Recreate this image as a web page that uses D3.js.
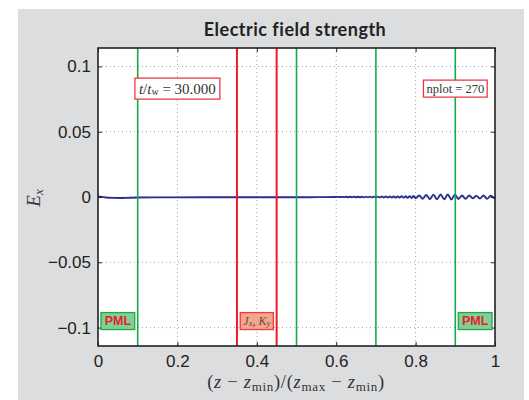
<!DOCTYPE html>
<html>
<head>
<meta charset="utf-8">
<script src="https://cdn.jsdelivr.net/npm/d3@7"></script>
<style>
  body { margin: 0; background: #fff; }
  svg { display: block; }
</style>
</head>
<body>
<div id="chart"></div>
<script>
// field sample positions (normalised z) and E_x values
const zPos = [0, 0.01, 0.02, 0.04, 0.06, 0.08, 0.1, 0.15, 0.2, 0.3, 0.4, 0.5, 0.55, 0.6,
  0.605, 0.61, 0.615, 0.62, 0.625, 0.63, 0.635, 0.64, 0.645, 0.65, 0.655, 0.66, 0.665, 0.67,
  0.675, 0.68, 0.685, 0.69, 0.695, 0.7, 0.705, 0.71, 0.715, 0.72, 0.725, 0.73, 0.735, 0.74,
  0.745, 0.75, 0.755, 0.76, 0.765, 0.77, 0.775, 0.78, 0.785, 0.79, 0.795, 0.8,
  0.809, 0.818, 0.827, 0.836, 0.845, 0.854, 0.863, 0.872, 0.881, 0.89, 0.899, 0.908,
  0.917, 0.926, 0.935, 0.944, 0.953, 0.962, 0.971, 0.98, 0.989, 0.998, 1.0];
const exValues = [0.0004, 0.0001, -0.0004, -0.0007, -0.0008, -0.0006, -0.0004, -0.0003, -0.0003, -0.0002, -0.0002, -0.0002, -0.0001, 0,
  0.0001, -0.0001, 0.0001, -0.0001, 0.00015, -0.00015, 0.00015, -0.00015, 0.0002, -0.0002, 0.0002, -0.0002, 0.0002, -0.00025,
  0.00025, -0.00025, 0.00025, -0.0003, 0.0003, -0.0003, 0.0003, -0.0003, 0.00035, -0.00035, 0.0004, -0.0004, 0.0004, -0.00045,
  0.0005, -0.0005, 0.0005, -0.0005, 0.0006, -0.0006, 0.0006, -0.0007, 0.0007, -0.0008, 0.0008, -0.0009,
  0.0012, -0.0014, 0.0016, -0.0017, 0.0018, -0.0017, 0.0019, -0.0018, 0.002, -0.0019, 0.0018, -0.0015,
  0.0012, -0.0014, 0.0011, -0.001, 0.0009, -0.0012, 0.0012, -0.0014, 0.001, -0.0008, 0.0002];

// boundaries drawn as vertical lines
const pmlLines = [0.1, 0.5, 0.7, 0.9];
const sourceLines = [0.35, 0.45];

// ticks
const xTicks = [0, 0.2, 0.4, 0.6, 0.8, 1];
const xTickLabels = ["0", "0.2", "0.4", "0.6", "0.8", "1"];
const yTicks = [-0.1, -0.05, 0, 0.05, 0.1];
const yTickLabels = ["\u22120.1", "\u22120.05", "0", "0.05", "0.1"];

// annotation boxes: data-space centres
const pmlLabels = [{ x: 0.05, y: -0.095 }, { x: 0.95, y: -0.095 }];
const sourceLabel = { x: 0.4, y: -0.095 };
const timeLabel = { x: 0.2, y: 0.083, value: "30.000" };
const nplotLabel = { x: 0.9, y: 0.083, value: "270" };

const W = 529, H = 400;
const margin = { top: 48, right: 34, bottom: 54, left: 98 };
const width = 495 - margin.left;
const height = 346 - margin.top;

const svg = d3.select("#chart").append("svg")
  .attr("width", W).attr("height", H);

// grey figure background
svg.append("rect").attr("x", 18).attr("y", 9).attr("width", 506).attr("height", 391)
  .attr("fill", "#dcdddf");

const g = svg.append("g").attr("transform", `translate(${margin.left},${margin.top})`);

const x = d3.scaleLinear().domain([0, 1]).range([0, width]);
const y = d3.scaleLinear().domain([-0.1141, 0.1141]).range([height, 0]);

g.append("rect").attr("width", width).attr("height", height).attr("fill", "#fff");

// dotted grid
g.selectAll(".gx").data(xTicks.slice(1, -1)).enter().append("line")
  .attr("x1", d => x(d)).attr("x2", d => x(d)).attr("y1", 0).attr("y2", height)
  .attr("stroke", "#a5a5a5").attr("stroke-width", 1).attr("stroke-dasharray", "1,3");
g.selectAll(".gy").data(yTicks).enter().append("line")
  .attr("x1", 0).attr("x2", width).attr("y1", d => y(d)).attr("y2", d => y(d))
  .attr("stroke", "#a5a5a5").attr("stroke-width", 1).attr("stroke-dasharray", "1,3");

// field line
const line = d3.line().x((d, i) => x(zPos[i])).y(d => y(d)).curve(d3.curveCatmullRom);
g.append("path").datum(exValues).attr("d", line)
  .attr("fill", "none").attr("stroke", "#2b2f8f").attr("stroke-width", 1.9);

// vertical boundary lines
g.selectAll(".pml").data(pmlLines).enter().append("line")
  .attr("x1", d => x(d)).attr("x2", d => x(d)).attr("y1", 0).attr("y2", height)
  .attr("stroke", "#19a84c").attr("stroke-width", 1.6);
g.selectAll(".src").data(sourceLines).enter().append("line")
  .attr("x1", d => x(d)).attr("x2", d => x(d)).attr("y1", 0).attr("y2", height)
  .attr("stroke", "#ec1c24").attr("stroke-width", 2);

// axes with inward ticks
const tickStyle = sel => {
  sel.select(".domain").remove();
  sel.selectAll("line").attr("stroke", "#222").attr("stroke-width", 1);
  sel.selectAll("text").attr("fill", "#222")
    .style("font-family", "'Liberation Sans', Arial, sans-serif").style("font-size", "17px");
};
g.append("g").attr("transform", `translate(0,${height})`)
  .call(d3.axisBottom(x).tickValues(xTicks).tickSizeInner(-4).tickSizeOuter(0).tickPadding(9)
    .tickFormat((d, i) => xTickLabels[i]))
  .call(tickStyle);
g.append("g")
  .call(d3.axisTop(x).tickValues(xTicks).tickSizeInner(-4).tickSizeOuter(0).tickFormat(""))
  .call(tickStyle);
g.append("g")
  .call(d3.axisLeft(y).tickValues(yTicks).tickSizeInner(-4).tickSizeOuter(0).tickPadding(7)
    .tickFormat((d, i) => yTickLabels[i]))
  .call(tickStyle);
g.append("g").attr("transform", `translate(${width},0)`)
  .call(d3.axisRight(y).tickValues(yTicks).tickSizeInner(-4).tickSizeOuter(0).tickFormat(""))
  .call(tickStyle);

// axes box
g.append("rect").attr("width", width).attr("height", height)
  .attr("fill", "none").attr("stroke", "#222").attr("stroke-width", 1.6);

const serif = "'Liberation Serif', 'Times New Roman', serif";

// boxed label helper: build text, then fit a box behind it
function boxLabel(cx, cy, fill, stroke, build, padX, h) {
  const grp = g.append("g");
  const rect = grp.append("rect");
  const t = grp.append("text").attr("x", cx).attr("y", cy).attr("text-anchor", "middle")
    .attr("dominant-baseline", "central");
  build(t);
  const bb = t.node().getBBox();
  rect.attr("x", cx - bb.width / 2 - padX).attr("y", cy - h / 2)
    .attr("width", bb.width + 2 * padX).attr("height", h)
    .attr("fill", fill).attr("stroke", stroke).attr("stroke-width", 1.3);
}

boxLabel(x(timeLabel.x), y(timeLabel.y), "#fff", "#ee3a44", t => {
  t.style("font-family", serif).style("font-size", "15px").attr("fill", "#333");
  t.append("tspan").attr("font-style", "italic").text("t");
  t.append("tspan").text("/");
  t.append("tspan").attr("font-style", "italic").text("t");
  t.append("tspan").attr("baseline-shift", "-25%").style("font-size", "10px").text("w");
  t.append("tspan").text(" = " + timeLabel.value);
}, 4, 21);

boxLabel(x(nplotLabel.x), y(nplotLabel.y), "#fff", "#ee3a44", t => {
  t.style("font-family", serif).style("font-size", "12.5px").attr("fill", "#333")
    .text("nplot = " + nplotLabel.value);
}, 3, 17);

boxLabel(x(sourceLabel.x), y(sourceLabel.y), "#f6a58d", "#ee3a44", t => {
  t.style("font-family", serif).style("font-size", "12px").attr("fill", "#6a4a44");
  t.append("tspan").attr("font-style", "italic").text("J");
  t.append("tspan").attr("baseline-shift", "-25%").attr("font-style", "italic").style("font-size", "8.5px").text("x");
  t.append("tspan").text(", ");
  t.append("tspan").attr("font-style", "italic").text("K");
  t.append("tspan").attr("baseline-shift", "-25%").attr("font-style", "italic").style("font-size", "8.5px").text("y");
}, 3, 17);

pmlLabels.forEach(p => {
  boxLabel(x(p.x), y(p.y), "#7fcf97", "#22a64a", t => {
    t.style("font-family", "'Liberation Sans', Arial, sans-serif").style("font-size", "12.5px")
      .style("font-weight", "bold").attr("fill", "#e8202a").text("PML");
  }, 3.5, 17);
});

// title
svg.append("text").attr("x", 295).attr("y", 36).attr("text-anchor", "middle")
  .style("font-family", "Lato, 'Open Sans', sans-serif").style("font-weight", "bold")
  .style("font-size", "18px").style("letter-spacing", "0.5px")
  .attr("fill", "#222").text("Electric field strength");

// y label
const yl = svg.append("text").attr("transform", "translate(40,198) rotate(-90)")
  .attr("text-anchor", "middle").style("font-family", serif).style("font-size", "19px").attr("fill", "#333");
yl.append("tspan").attr("font-style", "italic").text("E");
yl.append("tspan").attr("baseline-shift", "-25%").attr("font-style", "italic").style("font-size", "13px").text("x");

// x label
const xl = svg.append("text").attr("x", 296).attr("y", 388).attr("text-anchor", "middle")
  .style("font-family", serif).style("font-size", "18.5px").style("letter-spacing", "0.7px")
  .attr("fill", "#333");
const sub = (s) => xl.append("tspan").attr("baseline-shift", "-25%").style("font-size", "13px").text(s);
const norm = (s) => xl.append("tspan").attr("baseline-shift", "0").text(s);
norm("(");
xl.append("tspan").attr("font-style", "italic").text("z");
norm(" \u2212 ");
xl.append("tspan").attr("font-style", "italic").text("z");
sub("min");
norm(")/(");
xl.append("tspan").attr("font-style", "italic").text("z");
sub("max");
norm(" \u2212 ");
xl.append("tspan").attr("font-style", "italic").text("z");
sub("min");
norm(")");
</script>
</body>
</html>
